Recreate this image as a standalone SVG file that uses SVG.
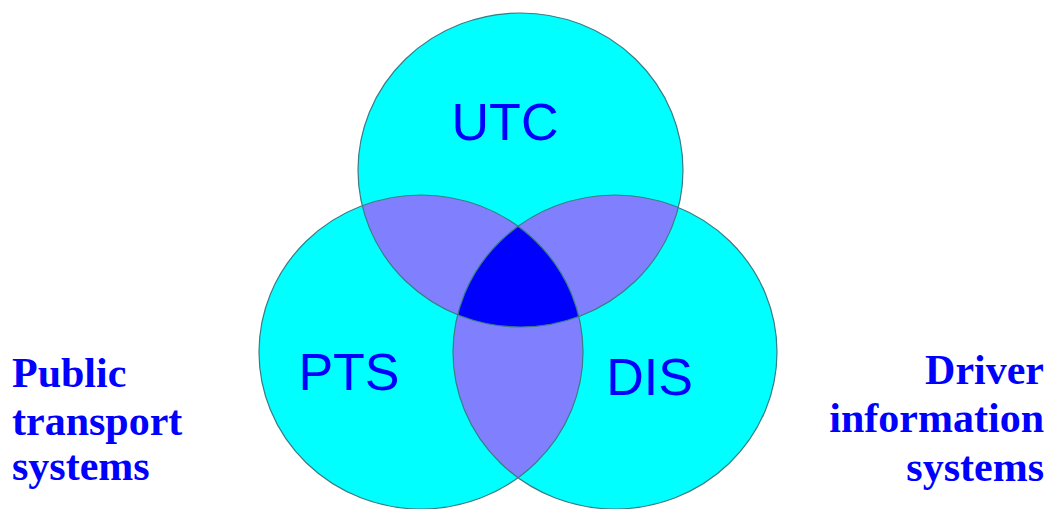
<svg xmlns="http://www.w3.org/2000/svg" width="1053" height="509" viewBox="0 0 1053 509">
<style>
.set{fill:#00FFFF}
.pair{fill:#8080FF}
.tri{fill:#0000FF}
.edge{fill:none;stroke:#3a7c84;stroke-width:1.2}
.lbl{font-family:"Liberation Sans",Arial,sans-serif;font-size:52px;fill:#0000FF;text-anchor:middle}
.side{font-family:"Liberation Serif","Times New Roman",serif;font-size:42px;font-weight:bold;fill:#0000FF}
</style>
<defs>
<ellipse id="eU" cx="520.5" cy="170" rx="162.5" ry="157"/>
<ellipse id="eP" cx="421" cy="352" rx="162" ry="157"/>
<ellipse id="eD" cx="615" cy="352" rx="162" ry="157"/>
<clipPath id="cU"><use href="#eU"/></clipPath>
<clipPath id="cP"><use href="#eP"/></clipPath>
<clipPath id="cD"><use href="#eD"/></clipPath>
</defs>
<g id="fills">
<use href="#eU" class="set"/>
<use href="#eP" class="set"/>
<use href="#eD" class="set"/>
<g clip-path="url(#cU)"><use href="#eP" class="pair"/><use href="#eD" class="pair"/></g>
<g clip-path="url(#cP)"><use href="#eD" class="pair"/></g>
<g clip-path="url(#cU)"><g clip-path="url(#cP)"><use href="#eD" class="tri"/></g></g>
</g>
<g id="node-UTC"><use href="#eU" class="edge"/><text class="lbl" x="505" y="140">UTC</text></g>
<g id="node-PTS"><use href="#eP" class="edge"/><text class="lbl" x="349" y="390">PTS</text></g>
<g id="node-DIS"><use href="#eD" class="edge"/><text class="lbl" x="649.5" y="395">DIS</text></g>
<g id="connectors"></g>
<g id="label-left">
<text class="side" x="12" y="387">Public</text>
<text class="side" x="12" y="435">transport</text>
<text class="side" x="12" y="480">systems</text>
</g>
<g id="label-right">
<text class="side" x="1044" y="384" text-anchor="end">Driver</text>
<text class="side" x="1044" y="432" text-anchor="end">information</text>
<text class="side" x="1044" y="481" text-anchor="end">systems</text>
</g>
</svg>
